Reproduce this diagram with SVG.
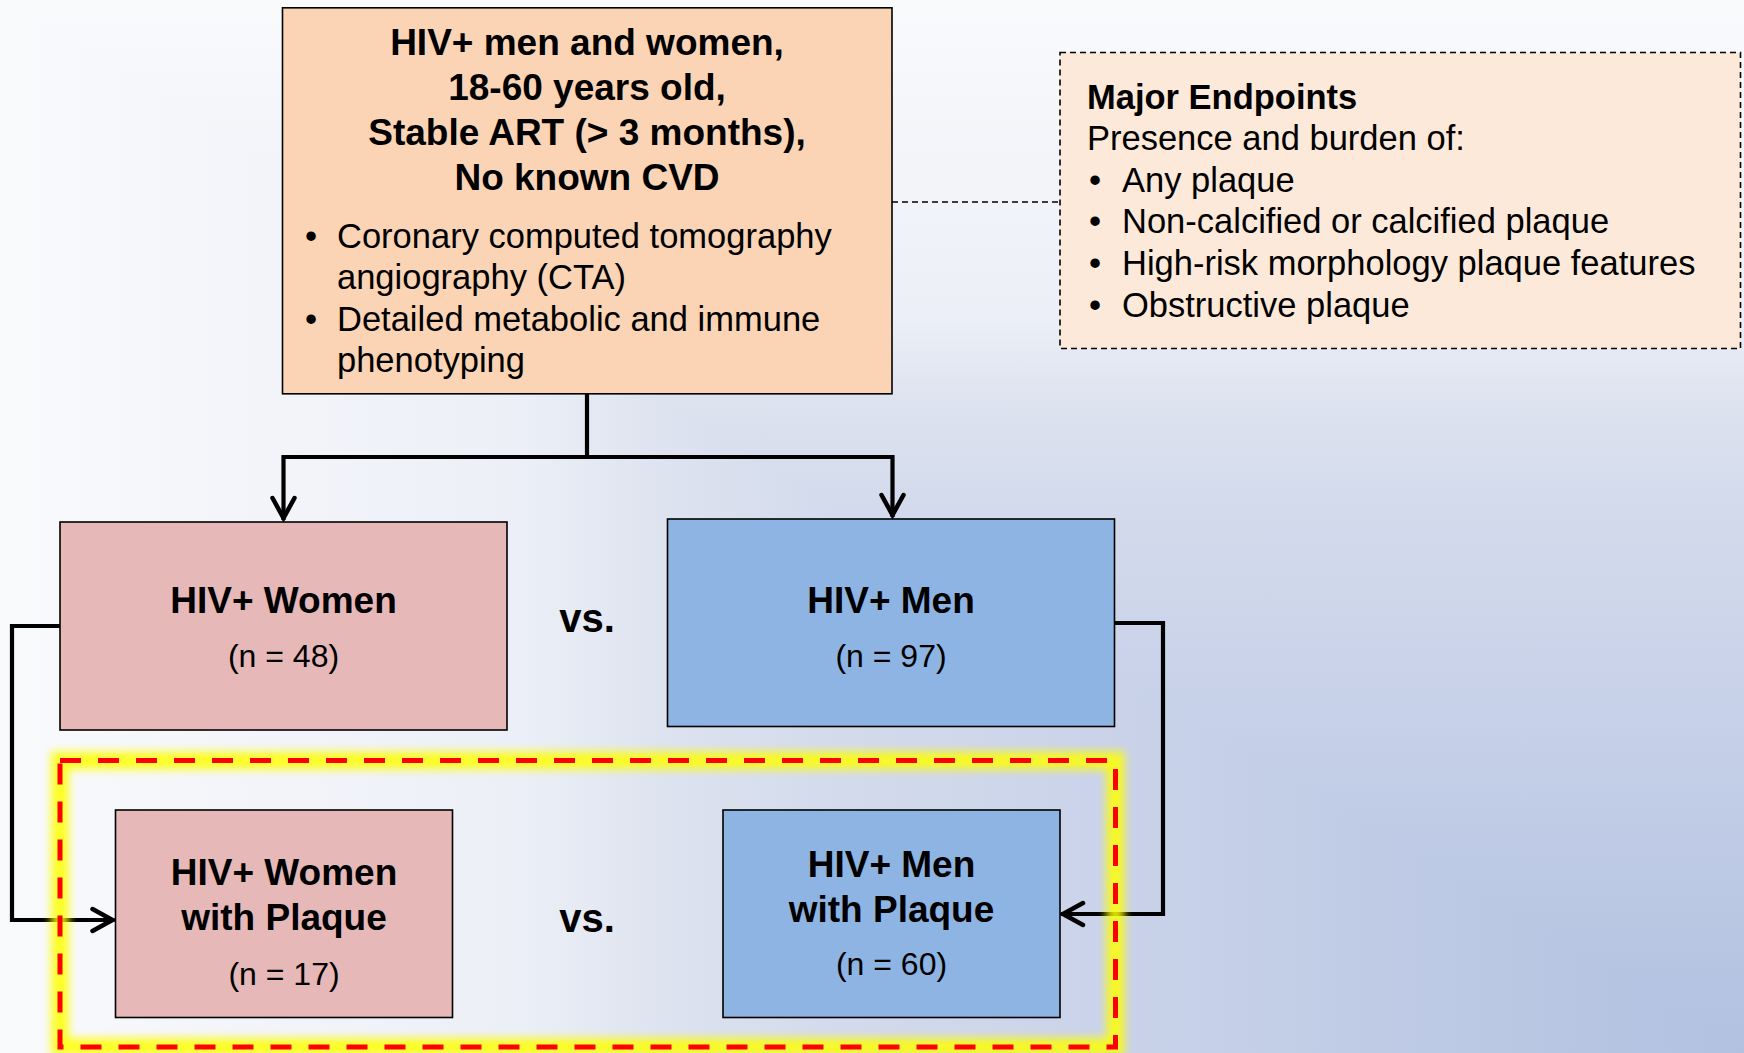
<svg xmlns="http://www.w3.org/2000/svg" width="1744" height="1053" viewBox="0 0 1744 1053">
<defs>
<style>
text{font-family:"Liberation Sans",Arial,Helvetica,sans-serif;fill:#000}
.b{font-weight:bold}
.c{text-anchor:middle}
.f37{font-size:37px}
.f34{font-size:34.5px}
.f32{font-size:32px}
.f40{font-size:40px}
.box{stroke:#000;stroke-width:1.6}
.women{fill:#e6b8b7}
.men{fill:#8eb4e3}
.con{fill:none;stroke:#000;stroke-width:4.2;stroke-linejoin:miter}
</style>
<linearGradient id="gv" x1="0" y1="0" x2="0" y2="1">
<stop offset="0" stop-color="#f9fafc"/>
<stop offset="0.3" stop-color="#eceff7"/>
<stop offset="0.38" stop-color="#dde3ef"/>
<stop offset="0.47" stop-color="#d4dbec"/>
<stop offset="0.69" stop-color="#c6d0e8"/>
<stop offset="1" stop-color="#b1c1e0"/>
</linearGradient>
<linearGradient id="gh" x1="0" y1="0" x2="1" y2="0">
<stop offset="0" stop-color="#f9fafc"/>
<stop offset="0.3" stop-color="#eceff7"/>
<stop offset="0.38" stop-color="#dde3ef"/>
<stop offset="0.47" stop-color="#d4dbec"/>
<stop offset="0.69" stop-color="#c6d0e8"/>
<stop offset="1" stop-color="#b1c1e0"/>
</linearGradient>
<marker id="arr" markerUnits="userSpaceOnUse" viewBox="-26 -14 30 28" markerWidth="30" markerHeight="28" refX="0" refY="0" orient="auto">
<path d="M-22,-11 L-2,0 L-22,11" fill="none" stroke="#000" stroke-width="4.5" stroke-linecap="round"/>
</marker>
<filter id="glow" x="-5%" y="-10%" width="110%" height="120%">
<feGaussianBlur stdDeviation="4"/>
</filter>
</defs>

<g id="background">
<rect x="0" y="0" width="1744" height="1053" fill="url(#gv)"/>
<polygon points="0,0 0,1053 1744,1053" fill="url(#gh)"/>
</g>

<g id="connectors">
<path class="con" d="M587,394 V457"/>
<path class="con" d="M589,457 H283.5 V520" marker-end="url(#arr)"/>
<path class="con" d="M585,457 H892.5 V517" marker-end="url(#arr)"/>
<path class="con" d="M60,626 H12 V920 H114.5" marker-end="url(#arr)"/>
<path class="con" d="M1114.5,623 H1163 V914 H1061" marker-end="url(#arr)"/>
<path d="M892,202 H1060" fill="none" stroke="#000" stroke-width="1.6" stroke-dasharray="6 4"/>
</g>

<g id="highlight">
<rect x="60" y="760.5" width="1055.5" height="286.5" fill="none" stroke="#ffff00" stroke-width="18" opacity="0.85" filter="url(#glow)"/>
<rect x="60" y="760.5" width="1055.5" height="286.5" fill="none" stroke="#ff0000" stroke-width="5" stroke-dasharray="21 17"/>
</g>

<g id="node-top">
<rect class="box" x="282.5" y="7.8" width="609.5" height="386" fill="#fbd4b5"/>
<text class="b c f37" x="587" y="55">HIV+ men and women,</text>
<text class="b c f37" x="587" y="100">18-60 years old,</text>
<text class="b c f37" x="587" y="145">Stable ART (&gt; 3 months),</text>
<text class="b c f37" x="587" y="190">No known CVD</text>
<text class="f34" x="305" y="248">•</text>
<text class="f34" x="337" y="248">Coronary computed tomography</text>
<text class="f34" x="337" y="289">angiography (CTA)</text>
<text class="f34" x="305" y="331">•</text>
<text class="f34" x="337" y="331">Detailed metabolic and immune</text>
<text class="f34" x="337" y="372">phenotyping</text>
</g>

<g id="node-endpoints">
<rect x="1060" y="52.5" width="680.5" height="296" fill="#fde9d9" stroke="#000" stroke-width="1.6" stroke-dasharray="6 4"/>
<text class="b f34" x="1087" y="109">Major Endpoints</text>
<text class="f34" x="1087" y="150">Presence and burden of:</text>
<text class="f34" x="1089" y="192">•</text>
<text class="f34" x="1122" y="192">Any plaque</text>
<text class="f34" x="1089" y="233">•</text>
<text class="f34" x="1122" y="233">Non-calcified or calcified plaque</text>
<text class="f34" x="1089" y="275">•</text>
<text class="f34" x="1122" y="275">High-risk morphology plaque features</text>
<text class="f34" x="1089" y="317">•</text>
<text class="f34" x="1122" y="317">Obstructive plaque</text>
</g>

<g id="node-women">
<rect class="box women" x="60" y="522" width="447" height="208"/>
<text class="b c f37" x="283.5" y="613">HIV+ Women</text>
<text class="c f32" x="283.5" y="667">(n = 48)</text>
</g>

<g id="node-men">
<rect class="box men" x="667.5" y="519" width="447" height="207.5"/>
<text class="b c f37" x="891" y="613">HIV+ Men</text>
<text class="c f32" x="891" y="667">(n = 97)</text>
</g>

<g id="label-vs-top">
<text class="b c f40" x="587" y="632">vs.</text>
</g>

<g id="node-women-plaque">
<rect class="box women" x="115.5" y="810" width="337" height="207.5"/>
<text class="b c f37" x="284" y="885">HIV+ Women</text>
<text class="b c f37" x="284" y="930">with Plaque</text>
<text class="c f32" x="284" y="985">(n = 17)</text>
</g>

<g id="node-men-plaque">
<rect class="box men" x="723" y="810" width="337" height="207.5"/>
<text class="b c f37" x="891.5" y="877">HIV+ Men</text>
<text class="b c f37" x="891.5" y="922">with Plaque</text>
<text class="c f32" x="891.5" y="975">(n = 60)</text>
</g>

<g id="label-vs-bottom">
<text class="b c f40" x="587" y="932">vs.</text>
</g>
</svg>
